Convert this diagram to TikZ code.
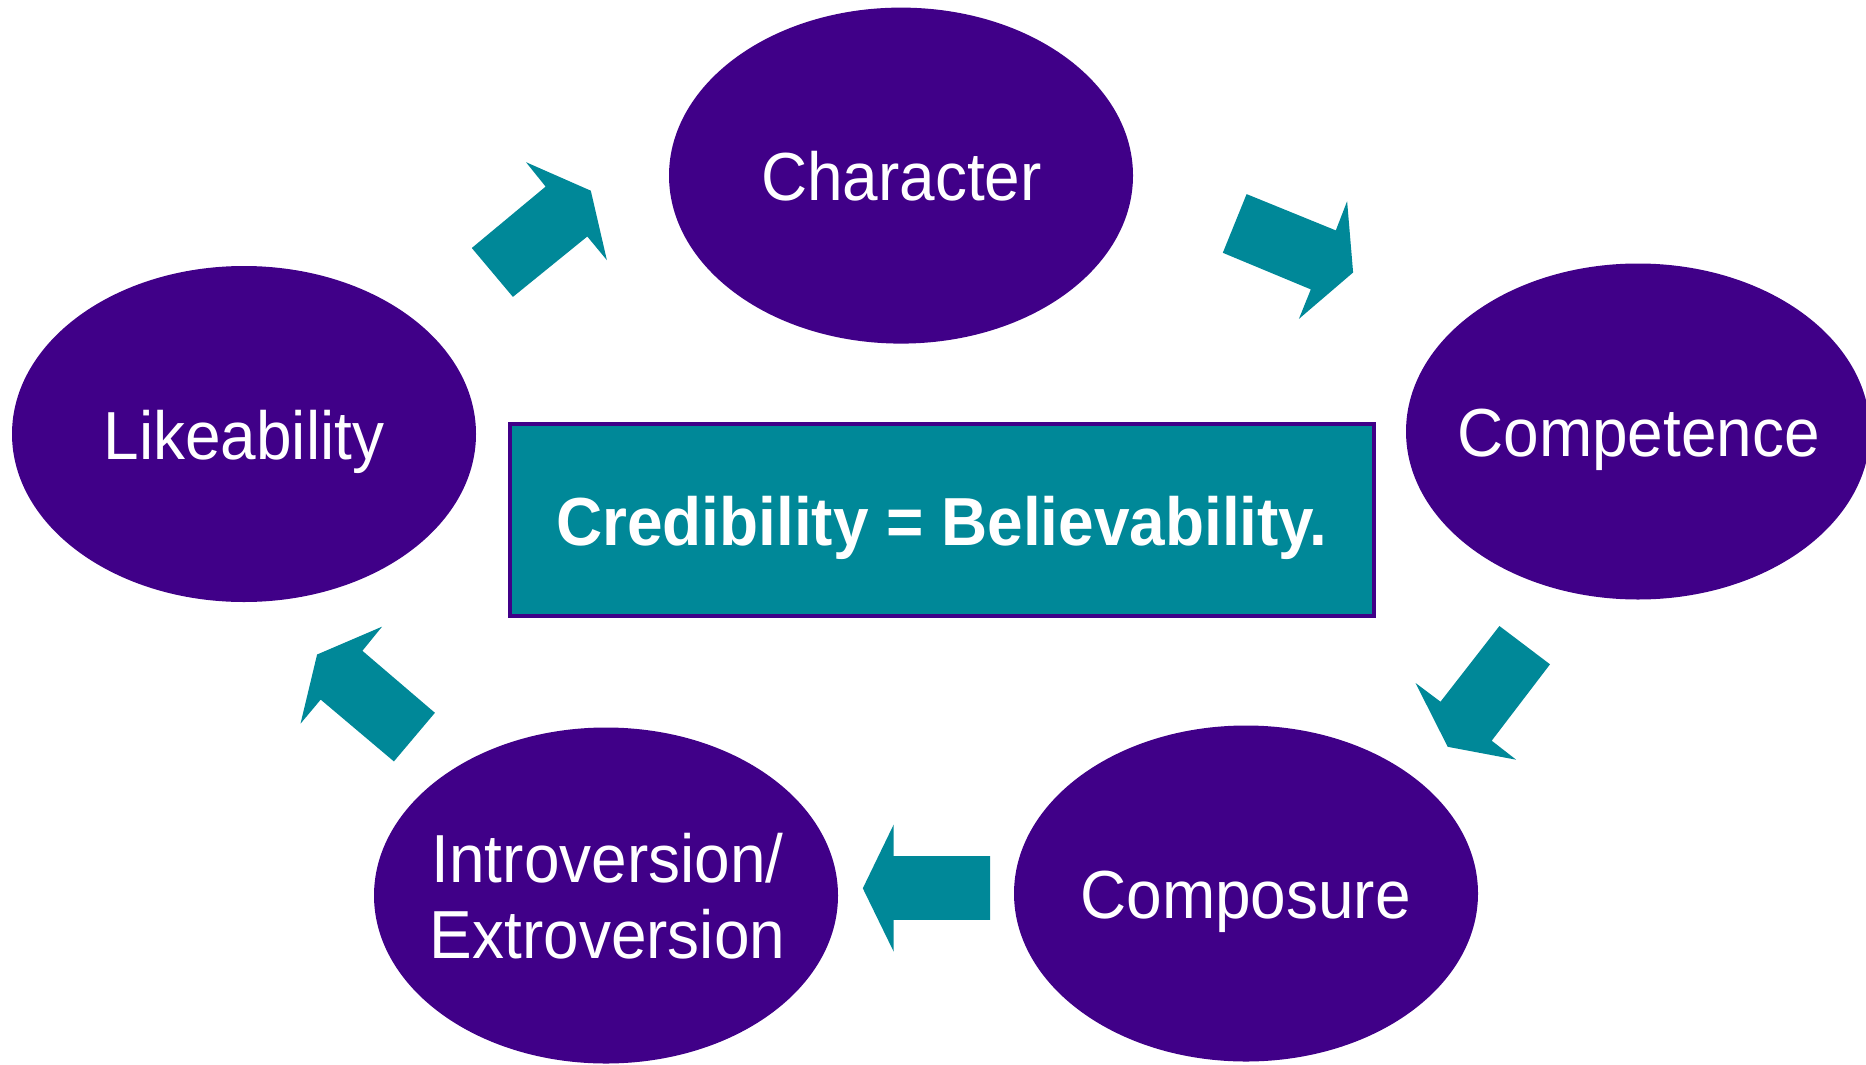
\documentclass[tikz,border=0pt]{standalone}
\usepackage{fontspec}
\setmainfont{Liberation Sans}[FakeStretch=0.94]
\usetikzlibrary{shapes.geometric}
\definecolor{cpurple}{RGB}{64,0,136}
\definecolor{cteal}{RGB}{0,136,152}
\begin{document}
\begin{tikzpicture}[x=0.5pt,y=-0.5pt,
  bub/.style={ellipse, fill=cpurple, minimum width=232pt, minimum height=168pt, inner sep=0pt},
  lbl/.style={text=white, font=\fontsize{34pt}{38.4pt}\selectfont, anchor=base, inner sep=0pt},
  barrow/.style={fill=cteal}]
\useasboundingbox (0,0) rectangle (1866,1064);
% bubbles
\node[bub] (char)  at (901,175.6) {};
\node[bub] (like)  at (244,434) {};
\node[bub] (comp)  at (1638,431.5) {};
\node[bub] (intro) at (606,895.5) {};
\node[bub] (compo) at (1246,893.5) {};
% labels
\node[lbl] (tchar)  at (901.5,200.6) {Character};
\node[lbl] (tlike)  at (244,459) {Likeability};
\node[lbl] (tcomp)  at (1638.5,456.5) {Competence};
\node[lbl] (tcompo) at (1245.5,918.5) {Composure};
\node[lbl] (tintro1) at (607.5,882) {Introversion/};
\node[lbl] (tintro2) at (607.5,958.8) {Extroversion};
% central box
\node[draw=cpurple, line width=2pt, fill=cteal, minimum width=432.25pt, minimum height=96.05pt, inner sep=0pt] (box) at (941.75,519.75) {};
\node[lbl, font=\bfseries\fontsize{34pt}{40pt}\selectfont] (tbox) at (941.75,545) {Credibility = Believability.};
% block arrows
\fill[barrow] (471.8,248.0) -- (545.6,186.6) -- (526.0,162.2) -- (590.8,190.7) -- (606.9,260.2) -- (587.3,236.5) -- (512.9,296.9) -- cycle;
\fill[barrow] (1246.6,194.1) -- (1335.8,230.4) -- (1347.1,201.2) -- (1353.1,272.5) -- (1298.9,318.9) -- (1310.8,289.4) -- (1222.8,252.8) -- cycle;
\fill[barrow] (1499.4,626.0) -- (1550.0,664.3) -- (1491.7,740.7) -- (1516.1,759.7) -- (1447.7,746.8) -- (1415.5,683.0) -- (1440.5,701.7) -- cycle;
\fill[barrow] (990,856) -- (893.7,856) -- (893.7,824.5) -- (862.8,888.3) -- (893.7,951.7) -- (893.7,919.8) -- (990,919.8) -- cycle;
\fill[barrow] (434.9,712.8) -- (362.4,650.8) -- (382.0,626.7) -- (317.1,654.5) -- (300.5,723.7) -- (320.7,699.6) -- (393.9,761.4) -- cycle;
\end{tikzpicture}
\end{document}
